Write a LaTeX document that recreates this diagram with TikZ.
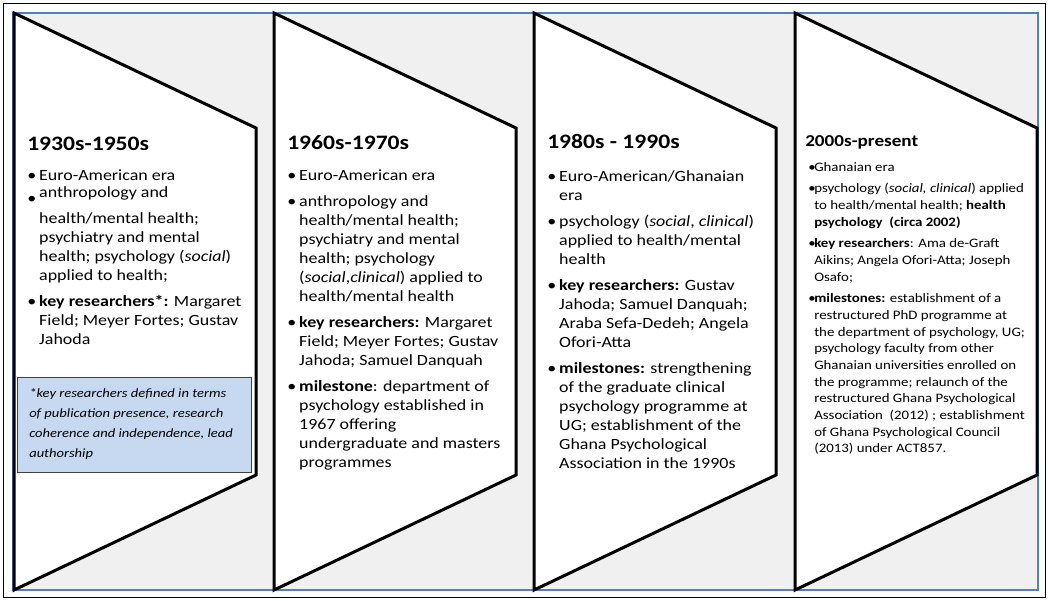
\documentclass[tikz,border=0pt]{standalone}
\usepackage{fontspec}
\setmainfont{Carlito}
\usepackage{graphicx}
\usepackage{tikz}
\definecolor{backgrey}{RGB}{240,240,240}
\definecolor{backblue}{RGB}{79,129,189}
\definecolor{noteblue}{RGB}{198,217,241}
\definecolor{notegrey}{RGB}{64,64,64}
\newlength{\erahang}
\newlength{\eragap}
\newcommand{\xstretch}[1]{\scalebox{1.15}[1]{#1}}
\newcommand{\eralist}[2]{\xstretch{\begin{minipage}[t]{#1}\parindent=0pt\parskip=0pt #2\end{minipage}}}
\newcommand{\eraitem}[1]{\par\hangindent=\erahang\hangafter=1\noindent\makebox[\erahang][l]{\textbullet}#1\par\vspace{\eragap}}
\tikzstyle{outer}=[draw=black, line width=0.75pt]
\tikzstyle{backdrop}=[draw=backblue, fill=backgrey, line width=1pt]
\tikzstyle{era}=[draw=black, fill=white, line width=2.25pt, line join=miter]
\tikzstyle{heading}=[anchor=base west, inner sep=0pt, font=\bfseries\fontsize{15.4}{18}\selectfont]
\tikzstyle{headingsmall}=[anchor=base west, inner sep=0pt, font=\bfseries\fontsize{12.5}{15}\selectfont]
\tikzstyle{points}=[anchor=base west, inner sep=0pt, font={\fontsize{11.7}{14.25}\selectfont\setlength{\erahang}{7.8pt}\setlength{\eragap}{5.25pt}}]
\tikzstyle{pointssmall}=[anchor=base west, inner sep=0pt, font={\fontsize{9.7}{12.5}\selectfont\setlength{\erahang}{3.9pt}\setlength{\eragap}{3.75pt}}]
\tikzstyle{notebox}=[anchor=north west, draw=notegrey, fill=noteblue, line width=0.75pt, minimum width=175.5pt, minimum height=71.25pt, inner sep=0pt]
\tikzstyle{notetext}=[anchor=base west, inner sep=0pt, font={\itshape\fontsize{9.5}{15}\selectfont}]

\begin{document}
\begin{tikzpicture}[x=0.75pt, y=-0.75pt]
	\useasboundingbox (0,0) rectangle (1048,600);
	\begin{scope}
		\draw[outer] (3,3) rectangle (1045,597);
		\draw[backdrop] (13,13) rectangle (1038,590);
		\draw[era] (14,13) -- (256,128) -- (256,475) -- (14,590) -- cycle;
		\draw[era] (274,13) -- (516,128) -- (516,475) -- (274,590) -- cycle;
		\draw[era] (534,13) -- (776,128) -- (776,475) -- (534,590) -- cycle;
		\draw[era] (795,13) -- (1037,128) -- (1037,475) -- (795,590) -- cycle;
	\end{scope}
	\begin{scope}
		\node (t1930) at (27,150)[heading] {\xstretch{1930s-1950s}};
		\node (p1930) at (27,180)[points] {\eralist{145pt}{%
			\eraitem{Euro-American era}\vspace{-\eragap}\vspace{-1.5pt}
			\par\hangindent=\erahang\hangafter=1\noindent\makebox[\erahang][l]{\raisebox{-4.5pt}{\textbullet}}anthropology and\\[5.25pt]
			health/mental health;\\ psychiatry and mental\\ health; psychology (\textit{social})\\ applied to health;\par\vspace{\eragap}
			\eraitem{\textbf{key researchers*:} Margaret\\ Field; Meyer Fortes; Gustav\\ Jahoda}}};
		\node (note) at (17,377)[notebox] {};
		\node (notes) at (29,397)[notetext] {\xstretch{\begin{minipage}[t]{150pt}\parindent=0pt
			*key researchers defined in terms\\ of publication presence, research\\ coherence and independence, lead\\ authorship\end{minipage}}};
	\end{scope}
	\begin{scope}
		\node (t1960) at (287,149)[heading] {\xstretch{1960s-1970s}};
		\node (p1960) at (287,180)[points] {\eralist{145pt}{%
			\eraitem{Euro-American era}
			\eraitem{anthropology and\\ health/mental health;\\ psychiatry and mental\\ health; psychology\\ (\textit{social},\textit{clinical}) applied to\\ health/mental health}
			\eraitem{\textbf{key researchers:} Margaret\\ Field; Meyer Fortes; Gustav\\ Jahoda; Samuel Danquah}
			\eraitem{\textbf{milestone}: department of\\ psychology established in\\ 1967 offering\\ undergraduate and masters\\ programmes}}};
	\end{scope}
	\begin{scope}
		\node (t1980) at (547,148)[heading] {\xstretch{1980s - 1990s}};
		\node (p1980) at (547,181)[points] {\eralist{145pt}{%
			\eraitem{Euro-American/Ghanaian\\ era}
			\eraitem{psychology (\textit{social}, \textit{clinical})\\ applied to health/mental\\ health}
			\eraitem{\textbf{key researchers:} Gustav\\ Jahoda; Samuel Danquah;\\ Araba Sefa-Dedeh; Angela\\ Ofori-Atta}
			\eraitem{\textbf{milestones:} strengthening\\ of the graduate clinical\\ psychology programme at\\ UG; establishment of the\\ Ghana Psychological\\ Association in the 1990s}}};
	\end{scope}
	\begin{scope}
		\node (t2000) at (805,146)[headingsmall] {\xstretch{2000s-present}};
		\node (p2000) at (808,171)[pointssmall] {\eralist{146pt}{%
			\eraitem{Ghanaian era}
			\eraitem{psychology (\textit{social, clinical}) applied\\ to health/mental health; \textbf{health}\\ \textbf{psychology\ \ (circa 2002)}}
			\eraitem{\textbf{key researchers}: Ama de-Graft\\ Aikins; Angela Ofori-Atta; Joseph\\ Osafo;}
			\eraitem{\textbf{milestones:} establishment of a\\ restructured PhD programme at\\ the department of psychology, UG;\\ psychology faculty from other\\ Ghanaian universities enrolled on\\ the programme; relaunch of the\\ restructured Ghana Psychological\\ Association\ \ (2012) ; establishment\\ of Ghana Psychological Council\\ (2013) under ACT857.}}};
	\end{scope}
\end{tikzpicture}
\end{document}
